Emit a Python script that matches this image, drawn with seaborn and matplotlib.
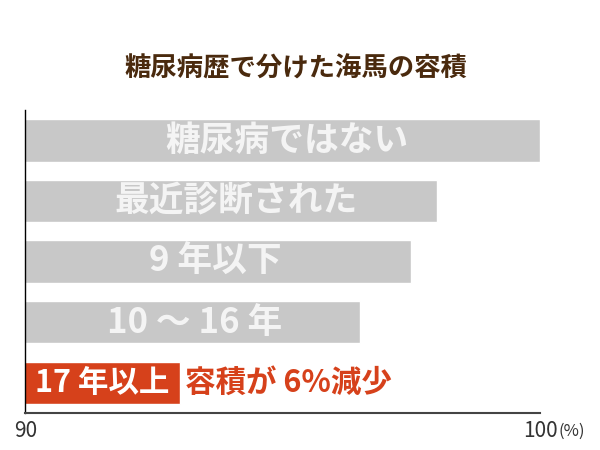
import pandas as pd
import seaborn as sns
import matplotlib.pyplot as plt

# values (hippocampus volume, %)
groups = ["糖尿病ではない", "最近診断された", "9 年以下", "10 ～ 16 年", "17 年以上"]
volume = [100.0, 98.0, 97.5, 96.5, 93.0]
bar_colors = ["#c8c8c8", "#c8c8c8", "#c8c8c8", "#c8c8c8", "#d6411b"]
note = "容積が 6%減少"
title = "糖尿病歴で分けた海馬の容積"

# label centres inside the gray bars (layout only)
label_x = [95.09, 94.10, 93.69, 93.30]

sns.set_style("white")
plt.rcParams['font.family'] = ['Noto Sans CJK JP', 'DejaVu Sans']

df = pd.DataFrame({"group": groups, "volume": volume})

fig = plt.figure(figsize=(6, 4.5), dpi=100)
ax = fig.add_axes([0.042, 0.082, 0.858, 0.673])
sns.barplot(data=df, x="volume", y="group", hue="group", palette=bar_colors,
            orient="h", width=0.7, legend=False, ax=ax, saturation=1)

ax.set_xlim(90, 100)
ax.set_ylim(4.5, -0.5)
ax.set_xlabel("")
ax.set_ylabel("")
ax.set_yticks([])
ax.set_xticks([90, 100])
ax.set_xticklabels(["90", "100"], fontsize=15, color="#333333")
ax.tick_params(axis="x", length=0, pad=5)

for s in ["top", "right"]:
    ax.spines[s].set_visible(False)
ax.spines["left"].set_color("black")
ax.spines["left"].set_linewidth(1)
ax.spines["bottom"].set_color("#444444")
ax.spines["bottom"].set_linewidth(1.5)

# labels inside the gray bars
for i, x in enumerate(label_x):
    ax.text(x, i, groups[i], ha="center", va="center", fontsize=25,
            fontweight="bold", color="#f4f4f4")

# the red bar
ax.text(90.2, 4, groups[4], ha="left", va="center", fontsize=22,
        fontweight="bold", color="white")
ax.text(volume[4] + 0.1, 4, note, ha="left", va="center", fontsize=22,
        fontweight="bold", color="#d6411b")

fig.text(558 / 600, 1 - 431 / 450, "(%)", ha="left", va="center",
         fontsize=12, color="#333333")
fig.text(296 / 600, 1 - 69 / 450, title, ha="center", va="center",
         fontsize=19, fontweight="bold", color="#4a2a0e")

plt.savefig("out.png")
plt.close()
